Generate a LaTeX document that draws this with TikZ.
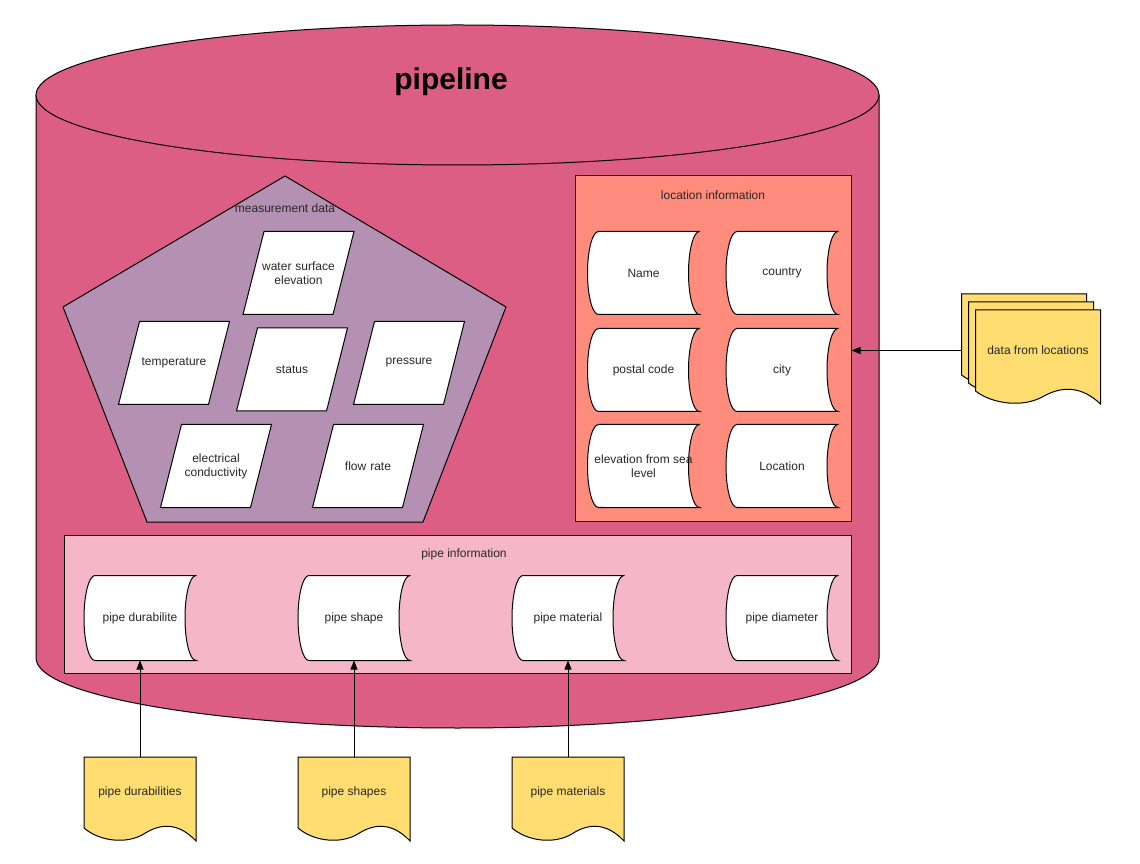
\documentclass[tikz,border=0pt]{standalone}
\usepackage{fontspec}
\setmainfont{Liberation Sans}
\usetikzlibrary{shadows,arrows.meta}

\definecolor{pipepink}{RGB}{220,94,132}
\definecolor{measpurple}{RGB}{180,145,179}
\definecolor{locsalmon}{RGB}{255,140,125}
\definecolor{infopink}{RGB}{244,182,200}
\definecolor{docyellow}{RGB}{255,221,113}
\definecolor{inktext}{RGB}{40,40,40}

% Own shapes: stored data, slanted input box, paper document
\makeatletter
\newdimen\sdxa \newdimen\sdxb \newdimen\sdya \newdimen\sdyb \newdimen\sdry \newdimen\sdw
\def\sdcorners{%
  \southwest \global\sdxa=\pgf@x \global\sdya=\pgf@y
  \northeast \global\sdxb=\pgf@x \global\sdyb=\pgf@y
  \global\sdw=\sdxb \global\advance\sdw by -\sdxa}
\def\sdanchors{%
  \inheritsavedanchors[from=rectangle]
  \inheritanchorborder[from=rectangle]
  \inheritanchor[from=rectangle]{center}
  \inheritanchor[from=rectangle]{north}
  \inheritanchor[from=rectangle]{south}
  \inheritanchor[from=rectangle]{east}
  \inheritanchor[from=rectangle]{west}
  \inheritanchor[from=rectangle]{north east}
  \inheritanchor[from=rectangle]{north west}
  \inheritanchor[from=rectangle]{south east}
  \inheritanchor[from=rectangle]{south west}}
\pgfdeclareshape{storeddata}{
  \sdanchors
  \backgroundpath{
    \sdcorners
    \global\sdry=.5\sdyb \global\advance\sdry by -.5\sdya
    \pgfpathmoveto{\pgfqpoint{\sdxb}{\sdyb}}
    \pgfpathlineto{\pgfpoint{\sdxa+11pt}{\sdyb}}
    \pgfpatharc{90}{270}{11pt and \sdry}
    \pgfpathlineto{\pgfqpoint{\sdxb}{\sdya}}
    \pgfpatharc{270}{90}{11pt and \sdry}
    \pgfpathclose
  }
}
\pgfdeclareshape{slantbox}{
  \sdanchors
  \backgroundpath{
    \sdcorners
    \pgfpathmoveto{\pgfpoint{\sdxa+21pt}{\sdyb}}
    \pgfpathlineto{\pgfqpoint{\sdxb}{\sdyb}}
    \pgfpathlineto{\pgfpoint{\sdxb-21pt}{\sdya}}
    \pgfpathlineto{\pgfqpoint{\sdxa}{\sdya}}
    \pgfpathclose
  }
}
\pgfdeclareshape{paperdoc}{
  \sdanchors
  \backgroundpath{
    \sdcorners
    \pgfpathmoveto{\pgfqpoint{\sdxa}{\sdya}}
    \pgfpathlineto{\pgfqpoint{\sdxa}{\sdyb}}
    \pgfpathlineto{\pgfqpoint{\sdxb}{\sdyb}}
    \pgfpathlineto{\pgfpoint{\sdxb}{\sdya-13pt}}
    \pgfpathcurveto{\pgfpoint{\sdxa+0.856\sdw}{\sdya+4pt}}{\pgfpoint{\sdxa+0.703\sdw}{\sdya+6pt}}{\pgfpoint{\sdxa+0.541\sdw}{\sdya-5.5pt}}
    \pgfpathcurveto{\pgfpoint{\sdxa+0.378\sdw}{\sdya-17pt}}{\pgfpoint{\sdxa+0.135\sdw}{\sdya-13pt}}{\pgfqpoint{\sdxa}{\sdya}}
    \pgfpathclose
  }
}
\makeatother

\tikzset{
  every node/.style={font=\fontsize{12}{14}\selectfont, text=inktext},
  measbox/.style={shape=slantbox, draw, fill=white, line width=1pt,
    minimum width=110pt, minimum height=82pt, text width=80pt, align=center},
  storebox/.style={shape=storeddata, draw, fill=white, line width=1pt,
    minimum width=111pt, minimum height=82pt, inner xsep=1pt, text width=106pt, align=flush center},
  docbox/.style={shape=paperdoc, draw, fill=docyellow, line width=1pt,
    minimum width=111pt, minimum height=70pt, align=center},
  flow/.style={-{Triangle[length=9pt,width=7pt]}, line width=1pt}
}

\begin{document}
\begin{tikzpicture}[x=1pt, y=1pt]
    \useasboundingbox (0,0) rectangle (1140,863);

    % The pipeline drum
    \fill[pipepink] (36,768) -- (36,205)
        arc[start angle=180, end angle=360, x radius=421.5, y radius=70] -- (879,768) -- cycle;
    \draw[line width=1pt] (36,768) -- (36,205)
        arc[start angle=180, end angle=360, x radius=421.5, y radius=70] -- (879,768);
    \filldraw[fill=pipepink, line width=1pt] (457.5,768) ellipse[x radius=421.5, y radius=70];
    \node[font=\fontsize{30}{36}\selectfont\bfseries, text=black] (title) at (451,781) {pipeline};

    % Measurement data pentagon
    \filldraw[fill=measpurple, line width=1pt] (285,687) -- (506,556) -- (423,341) -- (147,341) -- (63,556) -- cycle;
    \node (meastitle) at (285,655) {measurement data};
    \node[measbox] (wse) at (298.5,590) {water surface elevation};
    \node[measbox] (temp) at (174,500) {temperature};
    \node[measbox] (status) at (292,493.5) {status};
    \node[measbox] (press) at (409,500) {pressure};
    \node[measbox] (econd) at (216,397) {electrical conductivity};
    \node[measbox] (flowrate) at (368,397) {flow rate};

    % Location information
    \node[draw, fill=locsalmon, line width=1pt, minimum width=276pt, minimum height=345pt] (loc) at (713,514.5) {};
    \node (loctitle) at (713,668) {location information};
    \node[storebox] (name) at (643.5,590) {Name};
    \node[storebox] (country) at (782,590) {country};
    \node[storebox] (postal) at (643.5,493) {postal code};
    \node[storebox] (city) at (782,493) {city};
    \node[storebox] (elev) at (643.5,397) {elevation from sea level};
    \node[storebox] (location) at (782,397) {Location};

    % Pipe information
    \node[draw, fill=infopink, line width=1pt, minimum width=787pt, minimum height=138pt] (pipe) at (457.5,259) {};
    \node (pipetitle) at (464,309) {pipe information};
    \node[storebox, minimum height=84pt] (durab) at (140,245) {pipe durabilite};
    \node[storebox, minimum height=84pt] (shape) at (354,245) {pipe shape};
    \node[storebox, minimum height=84pt] (material) at (568,245) {pipe material};
    \node[storebox, minimum height=84pt] (diameter) at (782,245) {pipe diameter};

    % Source documents
    \node[docbox, anchor=north] (durabdoc) at (140,106) {pipe durabilities};
    \node[docbox, anchor=north] (shapedoc) at (354,106) {pipe shapes};
    \node[docbox, anchor=north] (materialdoc) at (568,106) {pipe materials};
    \node[docbox, anchor=north, minimum width=124pt, minimum height=80pt,
        double copy shadow={shadow xshift=-7pt, shadow yshift=8pt, fill=docyellow, draw=black, line width=1pt}]
        (locdoc) at (1038,553) {data from locations};

    % Feeds
    \draw[flow] (durabdoc.north) -- (durab.south);
    \draw[flow] (shapedoc.north) -- (shape.south);
    \draw[flow] (materialdoc.north) -- (material.south);
    \draw[flow] ([xshift=-14pt]locdoc.west) -- (locdoc.west -| loc.east);
\end{tikzpicture}
\end{document}
